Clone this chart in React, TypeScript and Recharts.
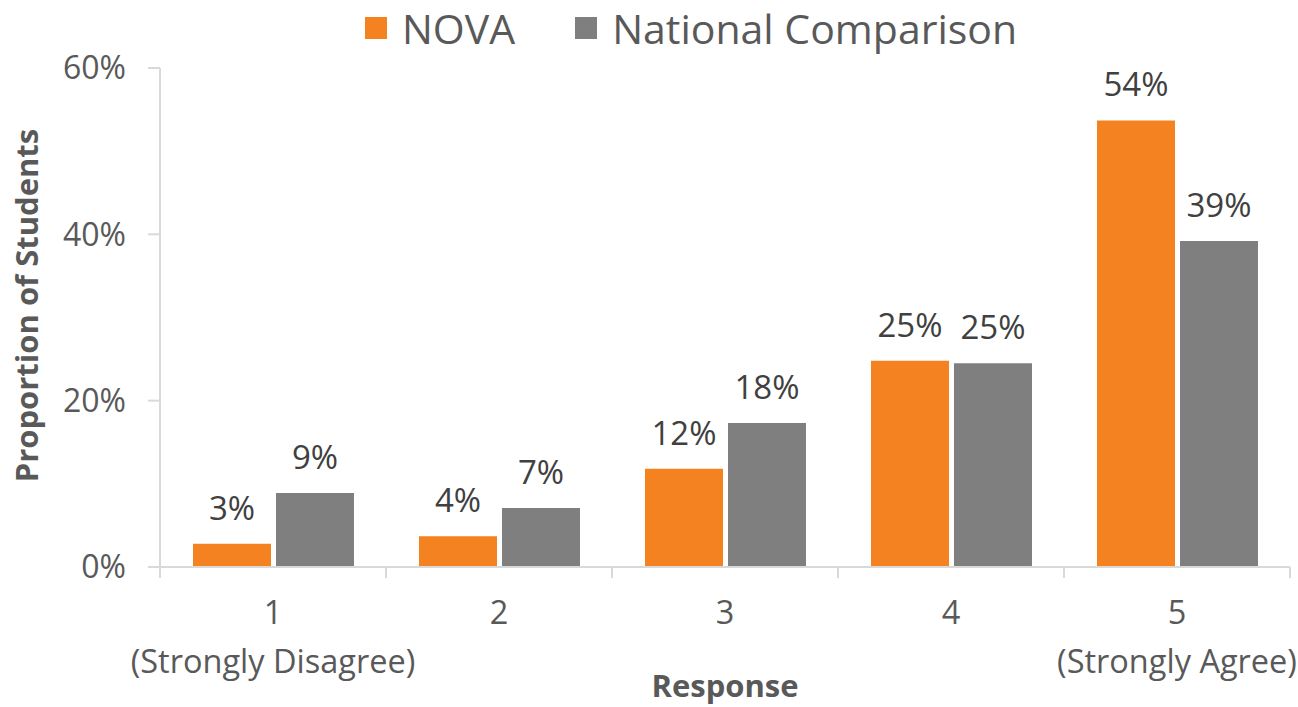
import React from "react";
import { BarChart, Bar, XAxis, YAxis, LabelList } from "recharts";

const categories = ["1", "2", "3", "4", "5"];
const subLabels = ["(Strongly Disagree)", "", "", "", "(Strongly Agree)"];
const nova = [2.8, 3.7, 11.8, 24.8, 53.7];
const national = [8.9, 7.1, 17.3, 24.5, 39.2];
const novaLabels = ["3%", "4%", "12%", "25%", "54%"];
const nationalLabels = ["9%", "7%", "18%", "25%", "39%"];
const yTicks = [0, 20, 40, 60];

const W = 1298;
const H = 707;
const MARGIN = { top: 68, right: 8, bottom: 0, left: 0 };
const Y_AXIS_W = 160;
const X_AXIS_H = 140;
const BAND = (W - MARGIN.left - MARGIN.right - Y_AXIS_W) / categories.length;

const ORANGE = "#F58220";
const GRAY = "#7F7F7F";
const AXIS = "#D9D9D9";
const TEXT = "#595959";
const FONT = "'Open Sans', sans-serif";

const data = categories.map((c, i) => ({
  name: c,
  sub: subLabels[i],
  nova: nova[i],
  national: national[i],
  novaLabel: novaLabels[i],
  nationalLabel: nationalLabels[i],
}));

// category label on two lines, plus tick marks on the band edges
const CategoryTick = ({ x, y, payload, index }: any) => {
  const row = data[index];
  const top = y - 8;
  return (
    <g>
      <line x1={x - BAND / 2} y1={top} x2={x - BAND / 2} y2={top + 11} stroke={AXIS} strokeWidth={2} />
      {index === categories.length - 1 && (
        <line x1={x + BAND / 2} y1={top} x2={x + BAND / 2} y2={top + 11} stroke={AXIS} strokeWidth={2} />
      )}
      <text x={x} y={top + 57} textAnchor="middle" fill={TEXT} fontSize={32.5} fontFamily={FONT}>
        {payload.value}
      </text>
      {row?.sub && (
        <text x={x} y={top + 106} textAnchor="middle" fill={TEXT} fontSize={32.5} fontFamily={FONT}>
          {row.sub}
        </text>
      )}
    </g>
  );
};

const YTitle = ({ viewBox }: any) => {
  const cy = viewBox.y + viewBox.height / 2 - 12;
  return (
    <text
      x={38}
      y={cy}
      transform={`rotate(-90, 38, ${cy})`}
      textAnchor="middle"
      fill={TEXT}
      fontSize={31}
      fontWeight="bold"
      fontFamily={FONT}
    >
      Proportion of Students
    </text>
  );
};

const Legend = () => (
  <div
    style={{
      position: "absolute",
      top: 0,
      left: 365,
      display: "flex",
      alignItems: "center",
      gap: 60,
      fontFamily: FONT,
      fontSize: 41,
      lineHeight: "normal",
      color: TEXT,
      whiteSpace: "nowrap",
    }}
  >
    {[
      { label: "NOVA", color: ORANGE },
      { label: "National Comparison", color: GRAY },
    ].map((s) => (
      <div key={s.label} style={{ display: "flex", alignItems: "center", gap: 15 }}>
        <div style={{ width: 22, height: 22, background: s.color }} />
        <span>{s.label}</span>
      </div>
    ))}
  </div>
);

export default function App() {
  return (
    <div style={{ position: "absolute", top: 0, left: 0, width: W, height: H, background: "#fff" }}>
      <Legend />
      <BarChart
        width={W}
        height={H}
        data={data}
        margin={MARGIN}
        barCategoryGap="14.6%"
        barGap={5}
      >
        <XAxis
          dataKey="name"
          axisLine={{ stroke: AXIS, strokeWidth: 2 }}
          tickLine={false}
          tick={<CategoryTick />}
          interval={0}
          height={X_AXIS_H}
          label={{
            value: "Response",
            position: "insideBottom",
            offset: 10,
            fill: TEXT,
            fontSize: 31,
            fontWeight: "bold",
            fontFamily: FONT,
          }}
        />
        <YAxis
          width={Y_AXIS_W}
          domain={[0, 60]}
          ticks={yTicks}
          tickFormatter={(v: number) => `${v}%`}
          axisLine={{ stroke: AXIS, strokeWidth: 2 }}
          tickLine={{ stroke: AXIS, strokeWidth: 2 }}
          tickSize={12}
          tickMargin={22}
          tick={{ fill: TEXT, fontSize: 32, fontFamily: FONT }}
          label={<YTitle />}
        />
        <Bar dataKey="nova" fill={ORANGE} isAnimationActive={false}>
          <LabelList dataKey="novaLabel" position="top" offset={24} fill="#404040" fontSize={33} fontFamily={FONT} />
        </Bar>
        <Bar dataKey="national" fill={GRAY} isAnimationActive={false}>
          <LabelList dataKey="nationalLabel" position="top" offset={24} fill="#404040" fontSize={33} fontFamily={FONT} />
        </Bar>
      </BarChart>
    </div>
  );
}
